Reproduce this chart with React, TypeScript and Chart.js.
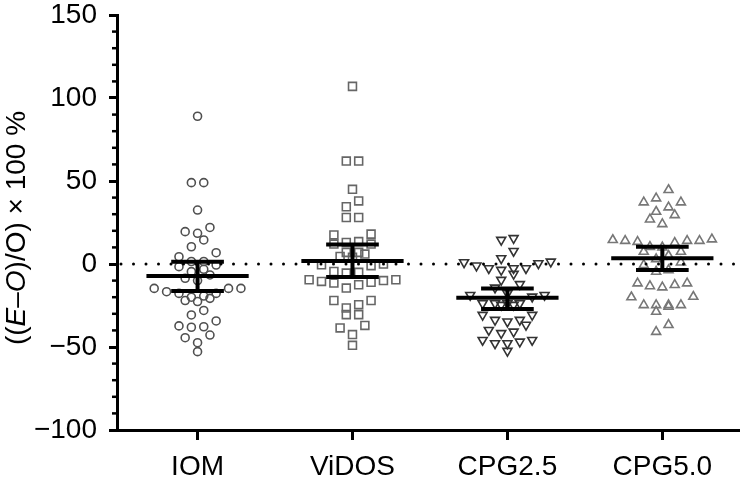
import React, { useEffect, useRef } from 'react';
import { Chart, registerables } from 'chart.js';

Chart.register(...registerables);

const categories = ['IOM', 'ViDOS', 'CPG2.5', 'CPG5.0'];

const iomValues = [89, 49, 49, 32.5, 22, 19.5, 18.5, 14.5, 10.4, 6.8, 4.4, 1.5, 1.5, -0.6, -1.6, -3.2, -4.6, -6.6, -8.6, -10, -14.7, -14.7, -14.7, -16.7, -17.7, -17.7, -19.3, -20, -20.7, -22, -22.6, -28, -30.7, -34.3, -37.3, -37.8, -38.1, -42.8, -44.4, -47.4, -52.8];
const vidosValues = [107, 62, 62, 45, 38, 34.5, 28, 28, 18, 17.5, 13.5, 13, 12, 12, 7, 7, 6, 4.5, 4, 0, -0.5, -1, -4.5, -5, -5.5, -9.5, -10, -11, -12.5, -14.5, -11.5, -10.5, -9.5, -22, -22, -24.5, -26.5, -30.5, -30.5, -37, -38.5, -42.5, -49];
const cpg25Values = [15.5, 14.5, 7.8, 3.4, 1.4, 1, 0.4, -1, -2.6, -2.6, -2.6, -3.6, -6, -9.6, -12.2, -14.3, -17.7, -18.7, -18.7, -19.7, -23.7, -23.7, -23.7, -23.7, -24.7, -24.7, -30.7, -30.7, -33.7, -33.7, -34.7, -36.7, -39.8, -40.8, -41.7, -45.8, -45.8, -46.8, -47.8, -47.8, -52.4];
const cpg50Values = [44.6, 39.6, 37.2, 37.2, 34.2, 31.5, 29.5, 26.9, 24.1, 14.9, 14.5, 14, 14, 14, 13.4, 12.8, 10.4, 10, 7.4, 7.4, 5, 3, 1, -0.6, -3.6, -4.6, -11.6, -11.6, -12.6, -13.3, -14, -19.7, -20, -24.7, -24.7, -24.7, -24.7, -25.7, -28.7, -36.7, -40.8];

const means = [-7.2, 1.8, -20.3, 3.4];
const ciLow = [-16.3, -7.8, -27.1, -3.6];
const ciHigh = [1.4, 11.8, -14.7, 10.4];

const yMin = -100;
const yMax = 150;
const yMajorStep = 50;
const yMinorStep = 10;

// layout constants for the swarm (approximate pixel scale of the plot)
const PX_PER_UNIT = 1.66;
const PX_PER_CAT = 156.3;
const ROW_TOL = 9.5;
const SLOT_PX = 12.5;

const FONT = '"Liberation Sans", Arial, Helvetica, sans-serif';
const FONT_SIZE = 28;

function swarm(values: number[], idx: number) {
  const sorted = [...values].sort((a, b) => b - a);
  const rows: number[][] = [];
  let cur: number[] = [];
  for (const v of sorted) {
    if (cur.length && (cur[0] - v) * PX_PER_UNIT > ROW_TOL) {
      rows.push(cur);
      cur = [];
    }
    cur.push(v);
  }
  if (cur.length) rows.push(cur);
  const pts: { x: number; y: number }[] = [];
  for (const row of rows) {
    const n = row.length;
    const slots = Array.from({ length: n }, (_, j) => (j - (n - 1) / 2) * SLOT_PX);
    const slotOrder = [...slots].sort((a, b) => Math.abs(a) - Math.abs(b) || a - b);
    const vals = [...row].sort((a, b) => a - b);
    vals.forEach((v, k) => pts.push({ x: idx + slotOrder[k] / PX_PER_CAT, y: v }));
  }
  return pts;
}

const fmt = (v: number) => (v < 0 ? '\u2212' + Math.abs(v) : String(v));

const overlayPlugin = {
  id: 'overlay',
  afterDatasetsDraw(chart: any) {
    const { ctx, chartArea, scales } = chart;
    const xs = scales.x;
    const ys = scales.y;
    ctx.save();
    const y0 = ys.getPixelForValue(0);
    ctx.beginPath();
    ctx.setLineDash([0, 12.5]);
    ctx.lineCap = 'round';
    ctx.lineWidth = 3;
    ctx.strokeStyle = '#000';
    ctx.moveTo(chartArea.left + 4, y0);
    ctx.lineTo(chartArea.right, y0);
    ctx.stroke();
    ctx.setLineDash([]);
    ctx.lineCap = 'butt';
    ctx.lineWidth = 4;
    means.forEach((m, i) => {
      const ym = ys.getPixelForValue(m);
      const yl = ys.getPixelForValue(ciLow[i]);
      const yh = ys.getPixelForValue(ciHigh[i]);
      ctx.beginPath();
      ctx.moveTo(xs.getPixelForValue(i - 0.33), ym);
      ctx.lineTo(xs.getPixelForValue(i + 0.33), ym);
      ctx.moveTo(xs.getPixelForValue(i), yl);
      ctx.lineTo(xs.getPixelForValue(i), yh);
      ctx.moveTo(xs.getPixelForValue(i - 0.17), yl);
      ctx.lineTo(xs.getPixelForValue(i + 0.17), yl);
      ctx.moveTo(xs.getPixelForValue(i - 0.17), yh);
      ctx.lineTo(xs.getPixelForValue(i + 0.17), yh);
      ctx.stroke();
    });
    ctx.restore();
  },
  afterDraw(chart: any) {
    const { ctx, chartArea, scales } = chart;
    const ys = scales.y;
    ctx.save();
    ctx.strokeStyle = '#000';
    ctx.lineWidth = 2.5;
    for (let v = yMin; v <= yMax; v += yMinorStep) {
      if (v % yMajorStep === 0) continue;
      const y = ys.getPixelForValue(v);
      ctx.beginPath();
      ctx.moveTo(chartArea.left - 5, y);
      ctx.lineTo(chartArea.left, y);
      ctx.stroke();
    }
    const segs = [
      { t: '((', it: false },
      { t: 'E', it: true },
      { t: '\u2013', it: false },
      { t: 'O', it: true },
      { t: ')/O) \u00d7 100 %', it: false },
    ];
    const f = (it: boolean) => `${it ? 'italic ' : ''}${FONT_SIZE}px ${FONT}`;
    let total = 0;
    segs.forEach((s) => {
      ctx.font = f(s.it);
      total += ctx.measureText(s.t).width;
    });
    ctx.translate(17, 228);
    ctx.rotate(-Math.PI / 2);
    ctx.fillStyle = '#000';
    ctx.textBaseline = 'middle';
    ctx.textAlign = 'left';
    let x = -total / 2;
    segs.forEach((s) => {
      ctx.font = f(s.it);
      ctx.fillText(s.t, x, 0);
      x += ctx.measureText(s.t).width;
    });
    ctx.restore();
  },
};

export default function App() {
  const ref = useRef<HTMLCanvasElement | null>(null);
  useEffect(() => {
    if (!ref.current) return;
    const common = {
      showLine: false,
      backgroundColor: 'rgba(0,0,0,0)',
      borderWidth: 1.6,
    };
    const chart = new Chart(ref.current, {
      type: 'scatter',
      data: {
        datasets: [
          { ...common, label: categories[0], data: swarm(iomValues, 0), pointStyle: 'circle', pointRadius: 4, borderColor: '#505050' },
          { ...common, label: categories[1], data: swarm(vidosValues, 1), pointStyle: 'rect', pointRadius: 5.6, borderColor: '#666666' },
          { ...common, label: categories[2], data: swarm(cpg25Values, 2), pointStyle: 'triangle', rotation: 180, pointRadius: 5.2, borderColor: '#333333' },
          { ...common, label: categories[3], data: swarm(cpg50Values, 3), pointStyle: 'triangle', pointRadius: 5.2, borderColor: '#777777' },
        ] as any,
      },
      options: {
        animation: false,
        responsive: false,
        devicePixelRatio: 1,
        layout: { padding: { top: 0, right: 2, left: 0, bottom: 0 } },
        plugins: { legend: { display: false }, tooltip: { enabled: false } },
        scales: {
          x: {
            type: 'linear',
            min: -0.52,
            max: 3.5,
            afterBuildTicks: (s: any) => {
              s.ticks = categories.map((_, i) => ({ value: i }));
            },
            afterFit: (s: any) => {
              s.height = 53;
              s.paddingLeft = 0;
              s.paddingRight = 0;
            },
            ticks: {
              autoSkip: false,
              maxRotation: 0,
              padding: 10,
              color: '#000',
              font: { family: FONT, size: FONT_SIZE },
              callback: (v: any) => categories[Math.round(Number(v))] ?? '',
            },
            grid: { drawOnChartArea: false, drawTicks: true, tickLength: 10, tickWidth: 3, tickColor: '#000' },
            border: { display: true, width: 3, color: '#000' },
          },
          y: {
            type: 'linear',
            min: yMin,
            max: yMax,
            afterFit: (s: any) => {
              s.width = 117;
              s.paddingTop = 15;
              s.paddingBottom = 0;
            },
            ticks: {
              stepSize: yMinorStep,
              autoSkip: false,
              padding: 12,
              color: '#000',
              font: { family: FONT, size: FONT_SIZE },
              callback: (v: any) => (Number(v) % yMajorStep === 0 ? fmt(Number(v)) : ''),
            },
            grid: {
              drawOnChartArea: false,
              drawTicks: true,
              tickLength: 8,
              tickWidth: 3,
              tickColor: (c: any) => (c.tick && c.tick.value % yMajorStep === 0 ? '#000' : 'rgba(0,0,0,0)'),
            },
            border: { display: true, width: 3, color: '#000' },
          },
        },
      } as any,
      plugins: [overlayPlugin],
    });
    return () => chart.destroy();
  }, []);
  return (
    <div style={{ position: 'fixed', left: 0, top: 0, width: 747, height: 483, background: '#fff' }}>
      <canvas ref={ref} width={747} height={483} style={{ width: 747, height: 483 }} />
    </div>
  );
}
